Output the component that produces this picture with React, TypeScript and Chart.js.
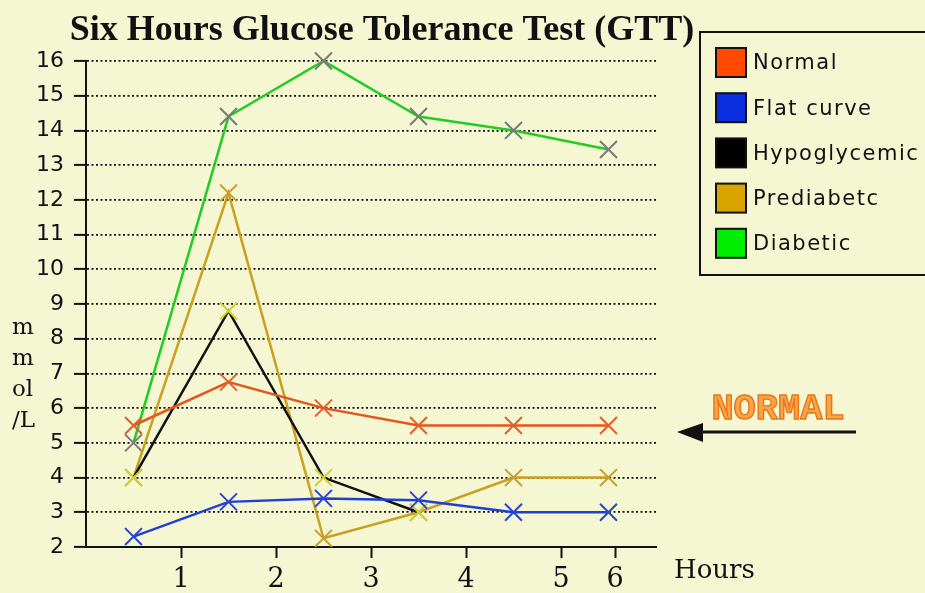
import React, { useEffect, useRef } from "react";
import { Chart, registerables } from "chart.js";

Chart.register(...registerables);

// ---- data ----
const hours = [0.5, 1.5, 2.5, 3.5, 4.5, 5.5];
const normal = [5.5, 6.75, 6.0, 5.5, 5.5, 5.5];
const flatCurve = [2.3, 3.3, 3.4, 3.35, 3.0, 3.0];
const hypoglycemic = [4.0, 8.8, 4.0, 3.0, null, null];
const prediabetc = [4.0, 12.2, 2.25, 3.0, 4.0, 4.0];
const diabetic = [5.0, 14.4, 16.0, 14.4, 14.0, 13.45];

const seriesNames = ["Normal", "Flat curve", "Hypoglycemic", "Prediabetc", "Diabetic"];
const seriesValues = [normal, flatCurve, hypoglycemic, prediabetc, diabetic];

const xTickValues = [1, 2, 3, 4, 5, 5.57];
const xTickLabels = ["1", "2", "3", "4", "5", "6"];
const yMin = 2;
const yMax = 16;

const titleText = "Six Hours Glucose Tolerance Test (GTT)";
const yTitleLines = ["m", "m", "ol", "/L"];
const xTitle = "Hours";
const noteText = "NORMAL";

// ---- styles ----
const BG = "#f4f7d2";
const lineColors = ["#e4561e", "#1f3fd0", "#111111", "#c9a020", "#22cc22"];
const markerColors = ["#e0602c", "#2a44cc", "#d2d222", "#c8a030", "#7a7a7a"];
const swatchColors = ["#ff4a00", "#0a2ee0", "#000000", "#d9a400", "#00ee00"];

const decor = {
  id: "decor",
  afterDraw(chart: any) {
    const ctx: CanvasRenderingContext2D = chart.ctx;
    ctx.save();
    ctx.fillStyle = "#111";
    // title
    ctx.font = "bold 36px 'Liberation Serif'";
    ctx.textAlign = "center";
    ctx.textBaseline = "alphabetic";
    ctx.fillText(titleText, 382, 40);

    // y title (stacked)
    ctx.font = "23px 'DejaVu Serif'";
    ctx.textAlign = "left";
    ctx.textBaseline = "middle";
    yTitleLines.forEach((t, i) => ctx.fillText(t, 12, 328 + i * 31));

    // x title
    ctx.font = "26px 'DejaVu Serif'";
    ctx.fillText(xTitle, 674, 571);

    // legend
    ctx.lineWidth = 2;
    ctx.strokeStyle = "#111";
    ctx.strokeRect(700, 32, 260, 243);
    ctx.font = "21px 'DejaVu Sans'";
    (ctx as any).letterSpacing = "1.5px";
    seriesNames.forEach((name, i) => {
      const top = 48 + i * 45.2;
      ctx.fillStyle = swatchColors[i];
      ctx.fillRect(716, top, 30, 29);
      ctx.strokeStyle = "#111";
      ctx.strokeRect(716, top, 30, 29);
      ctx.fillStyle = "#111";
      ctx.fillText(name, 753, top + 16);
    });
    (ctx as any).letterSpacing = "0px";

    // NORMAL note
    ctx.font = "bold 37px 'Liberation Mono'";
    ctx.textAlign = "center";
    ctx.fillStyle = "#f8a545";
    ctx.fillText(noteText, 778, 410);
    ctx.lineWidth = 1.4;
    ctx.strokeStyle = "#e8761c";
    ctx.strokeText(noteText, 778, 410);

    // arrow
    ctx.strokeStyle = "#111";
    ctx.fillStyle = "#111";
    ctx.lineWidth = 3;
    ctx.beginPath();
    ctx.moveTo(700, 432);
    ctx.lineTo(856, 432);
    ctx.stroke();
    ctx.beginPath();
    ctx.moveTo(677, 432);
    ctx.lineTo(703, 423);
    ctx.lineTo(703, 442);
    ctx.closePath();
    ctx.fill();
    ctx.restore();
  },
};

export default function App() {
  const ref = useRef<HTMLCanvasElement>(null);
  useEffect(() => {
    const datasets = seriesNames.map((name, s) => ({
      label: name,
      data: hours.map((h, i) => ({ x: h, y: seriesValues[s][i] })),
      borderColor: lineColors[s],
      backgroundColor: lineColors[s],
      borderWidth: 2.5,
      pointStyle: "crossRot",
      pointRadius: 12,
      pointHoverRadius: 12,
      pointBorderColor: markerColors[s],
      pointBorderWidth: 2,
      tension: 0,
      clip: false,
    }));
    const chart = new Chart(ref.current!, {
      type: "line",
      data: { datasets } as any,
      plugins: [decor],
      options: {
        animation: false,
        responsive: true,
        maintainAspectRatio: false,
        events: [],
        layout: { padding: { left: 0, top: 61, right: 269, bottom: 0 } },
        plugins: { legend: { display: false }, title: { display: false }, tooltip: { enabled: false } },
        scales: {
          x: {
            type: "linear",
            min: 0,
            max: 6,
            afterFit(scale: any) {
              scale.height = 46;
            },
            afterBuildTicks(scale: any) {
              scale.ticks = xTickValues.map((v) => ({ value: v }));
            },
            ticks: {
              callback: (_v: any, i: number) => xTickLabels[i],
              font: { family: "'DejaVu Serif'", size: 27 },
              color: "#111",
              padding: 6,
              maxRotation: 0,
              autoSkip: false,
            },
            grid: { display: true, drawOnChartArea: false, tickLength: 11, tickColor: "#111", tickWidth: 2 },
            border: { display: true, color: "#111", width: 2 },
          },
          y: {
            type: "linear",
            min: yMin,
            max: yMax,
            afterFit(scale: any) {
              scale.width = 86;
            },
            ticks: {
              stepSize: 1,
              font: { family: "'DejaVu Sans'", size: 22 },
              color: "#111",
              padding: 10,
            },
            grid: { display: true, color: "#111", lineWidth: 1.8, tickLength: 12, tickColor: "#111", tickWidth: 2 },
            border: { display: true, color: "#111", width: 2, dash: [2, 2.5] },
          },
        },
      } as any,
    });
    return () => chart.destroy();
  }, []);
  return (
    <div style={{ position: "fixed", left: 0, top: 0, width: 925, height: 593, background: BG }}>
      <canvas ref={ref} />
    </div>
  );
}
